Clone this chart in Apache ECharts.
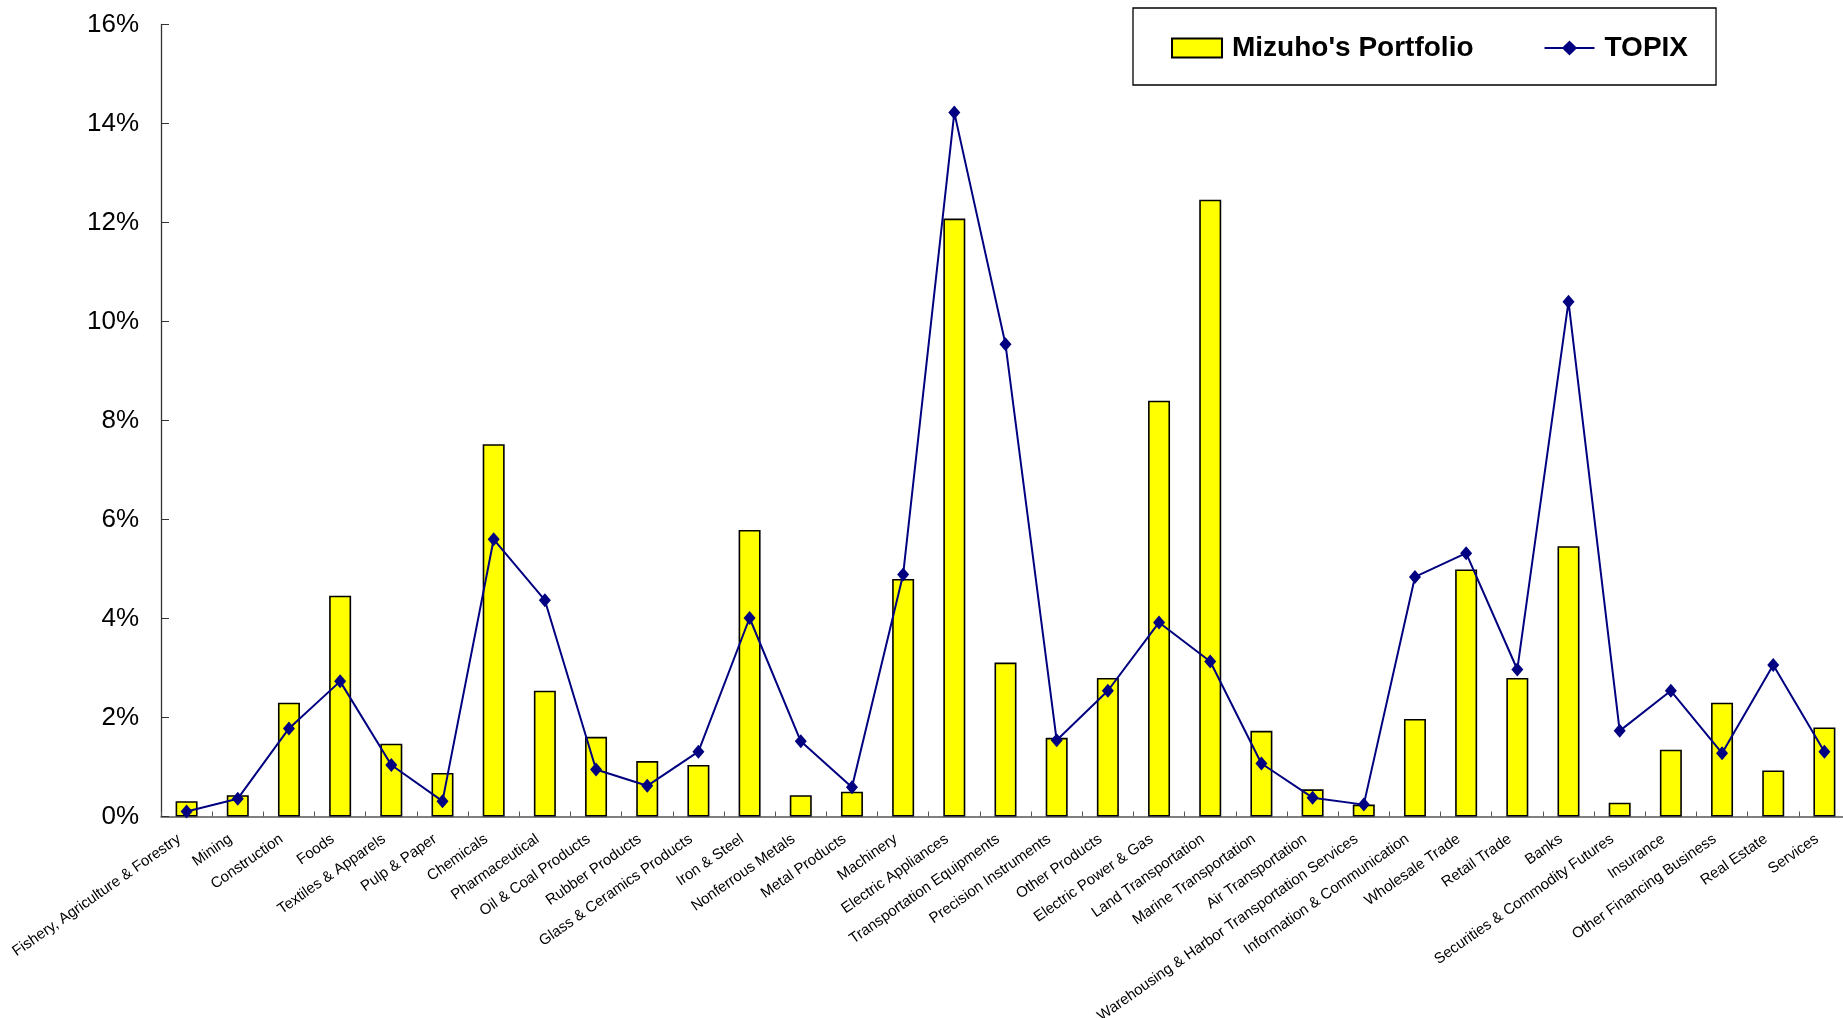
<!DOCTYPE html>
<html>
<head>
<meta charset="utf-8">
<title>Mizuho's Portfolio vs TOPIX</title>
<script src="https://cdn.jsdelivr.net/npm/echarts@6/dist/echarts.min.js"></script>
<style>
  html, body { margin: 0; padding: 0; background: #fff; }
  #chart { width: 1843px; height: 1018px; }
</style>
</head>
<body>
<div id="chart"></div>
<script>
// Sector names (TOPIX 33 sectors)
const sectors = [
  'Fishery, Agriculture & Forestry', 'Mining', 'Construction', 'Foods',
  'Textiles & Apparels', 'Pulp & Paper', 'Chemicals', 'Pharmaceutical',
  'Oil & Coal Products', 'Rubber Products', 'Glass & Ceramics Products',
  'Iron & Steel', 'Nonferrous Metals', 'Metal Products', 'Machinery',
  'Electric Appliances', 'Transportation Equipments', 'Precision Instruments',
  'Other Products', 'Electric Power & Gas', 'Land Transportation',
  'Marine Transportation', 'Air Transportation',
  'Warehousing & Harbor Transportation Services', 'Information & Communication',
  'Wholesale Trade', 'Retail Trade', 'Banks', 'Securities & Commodity Futures',
  'Insurance', 'Other Financing Business', 'Real Estate', 'Services'
];

// Sector weights in percent
const portfolio = [
  0.31, 0.43, 2.30, 4.46, 1.47, 0.88, 7.52, 2.54, 1.61, 1.12, 1.04,
  5.79, 0.43, 0.50, 4.80, 12.08, 3.11, 1.59, 2.80, 8.40, 12.46,
  1.73, 0.55, 0.24, 1.97, 4.99, 2.80, 5.46, 0.28, 1.35, 2.30, 0.93, 1.80
];
const topix = [
  0.10, 0.36, 1.78, 2.73, 1.04, 0.31, 5.60, 4.37, 0.95, 0.62, 1.31,
  4.01, 1.52, 0.59, 4.89, 14.22, 9.54, 1.54, 2.54, 3.92, 3.13,
  1.07, 0.38, 0.24, 4.84, 5.32, 2.97, 10.40, 1.73, 2.54, 1.28, 3.06, 1.31
];

// Value axis scale
const yMin = 0, yMax = 16, yStep = 2;

const font = "'Liberation Sans', Arial, sans-serif";
const chart = echarts.init(document.getElementById('chart'), null, { renderer: 'canvas' });

chart.setOption({
  animation: false,
  backgroundColor: '#ffffff',
  textStyle: { fontFamily: font },
  legend: {
    left: 1133,
    top: 8,
    padding: [26, 28, 23, 38],
    itemGap: 70,
    itemWidth: 50,
    itemHeight: 19,
    borderColor: '#000',
    borderWidth: 1.3,
    textStyle: { fontFamily: font, fontSize: 28, fontWeight: 'bold', color: '#000', padding: [0, 0, 0, 5] },
    data: [
      { name: "Mizuho's Portfolio", icon: 'rect' },
      { name: 'TOPIX' }
    ]
  },
  grid: {
    left: 161, top: 24.5, right: -7, bottom: 201.5,
    containLabel: false,
    outerBoundsMode: 'none'
  },
  xAxis: {
    type: 'category',
    data: sectors,
    boundaryGap: true,
    axisLine: { lineStyle: { color: '#555', width: 1.5 } },
    axisTick: { show: true, inside: true, length: 5, interval: 0, lineStyle: { color: '#555' } },
    axisLabel: {
      interval: 0,
      rotate: 35,
      margin: 16,
      padding: [0, 9, 0, 0],
      fontSize: 15,
      fontFamily: font,
      color: '#000'
    }
  },
  yAxis: {
    type: 'value',
    min: yMin,
    max: yMax,
    interval: yStep,
    splitLine: { show: false },
    axisLine: { show: true, lineStyle: { color: '#333', width: 1.3 } },
    axisTick: { show: true, inside: true, length: 8, lineStyle: { color: '#333' } },
    axisLabel: {
      formatter: v => v + '%',
      fontSize: 26,
      fontFamily: font,
      color: '#000',
      margin: 22
    }
  },
  series: [
    {
      name: "Mizuho's Portfolio",
      type: 'bar',
      data: portfolio,
      barWidth: 22,
      itemStyle: { color: '#FFFF00', borderColor: '#000', borderWidth: 1.6 },
      z: 2
    },
    {
      name: 'TOPIX',
      type: 'line',
      data: topix,
      symbol: 'diamond',
      symbolSize: [12, 14],
      lineStyle: { color: '#000080', width: 2 },
      itemStyle: { color: '#000080' },
      z: 3
    }
  ]
});
</script>
</body>
</html>
